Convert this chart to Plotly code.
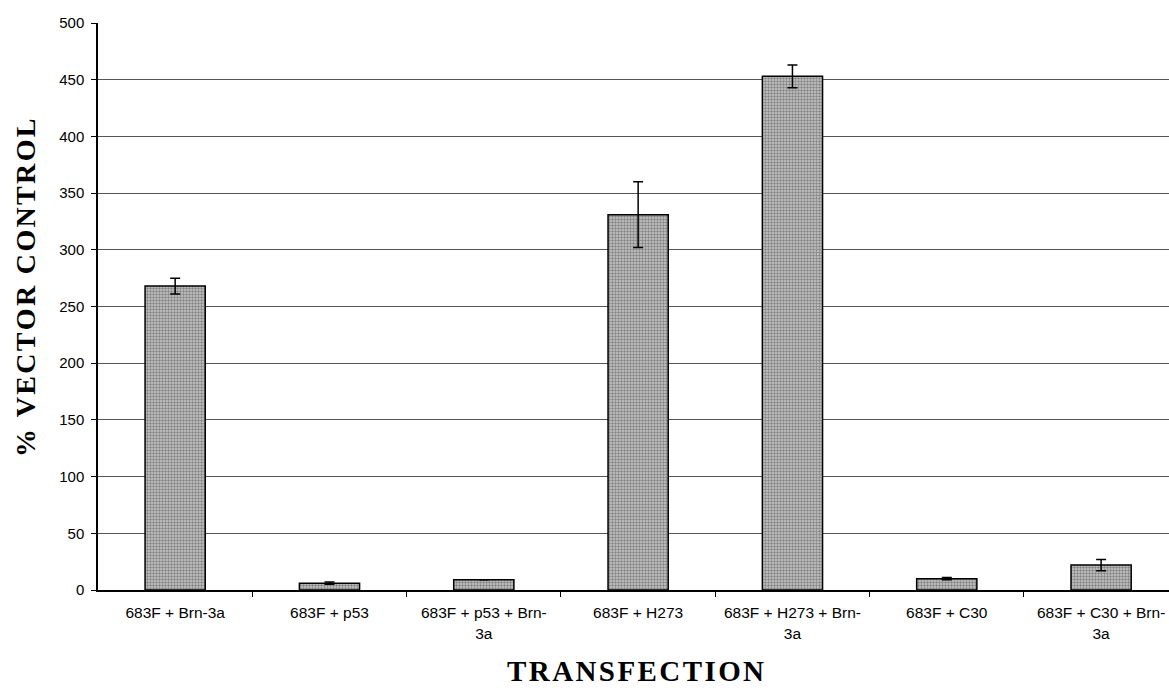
import plotly.graph_objects as go

# Luciferase activity of the 683F reporter, expressed as % of vector control
categories = [
    "683F + Brn-3a",
    "683F + p53",
    "683F + p53 + Brn-<br>3a",
    "683F + H273",
    "683F + H273 + Brn-<br>3a",
    "683F + C30",
    "683F + C30 + Brn-<br>3a",
]
percent_control = [268, 6, 9, 331, 453, 10, 22]
error = [7, 1, 0, 29, 10, 1, 5]
y_ticks = [0, 50, 100, 150, 200, 250, 300, 350, 400, 450, 500]

W, H = 1169, 693
L, R, T, B = 98, 0, 23, 103

positions = list(range(len(categories)))
boundaries = [p + 0.5 for p in positions[:-1]]

fig = go.Figure()
fig.add_trace(go.Bar(
    x=positions,
    y=percent_control,
    width=0.39,
    marker=dict(
        color="#c4c4c4",
        line=dict(color="black", width=1.5),
        pattern=dict(shape=".", fgcolor="#404040", bgcolor="#c8c8c8",
                     size=3, solidity=0.5),
    ),
    error_y=dict(type="data", array=error, visible=True,
                 color="black", thickness=1.5, width=5),
    showlegend=False,
))

fig.update_layout(
    width=W, height=H,
    margin=dict(l=L, r=R, t=T, b=B, pad=0),
    paper_bgcolor="white",
    plot_bgcolor="white",
    font=dict(family="Liberation Sans, Arial, sans-serif", size=15, color="black"),
)

# labels under each bar, tick marks between categories
fig.update_xaxes(
    type="linear",
    tickmode="array",
    tickvals=positions,
    ticktext=categories,
    tickfont=dict(size=15.5),
    range=[-0.5, 6.44],
    showline=True, linecolor="black", linewidth=1.5,
    ticks="", showgrid=False, zeroline=False,
    ticklabelstandoff=8,
    minor=dict(tickmode="array", tickvals=boundaries, ticks="outside",
               ticklen=5, tickcolor="black", tickwidth=1, showgrid=False),
)

fig.update_yaxes(
    range=[0, 500],
    tickvals=y_ticks,
    showline=True, linecolor="black", linewidth=1.5,
    ticks="outside", ticklen=5, tickcolor="black", tickwidth=1,
    showgrid=True, gridcolor="#555555", gridwidth=1,
    zeroline=False,
    ticklabelstandoff=4,
)

pw = W - L - R
ph = H - T - B

fig.add_annotation(
    text="\u200a".join("% VECTOR CONTROL"),
    textangle=-90,
    xref="paper", yref="paper",
    x=(25 - L) / pw, y=(H - B - 288) / ph,
    xanchor="center", yanchor="middle",
    showarrow=False,
    font=dict(family="Liberation Serif, Times New Roman, serif", size=28,
              color="black", weight="bold"),
)

fig.add_annotation(
    text="\u200a".join("TRANSFECTION"),
    xref="paper", yref="paper",
    x=(635 - L) / pw, y=(H - B - 671) / ph,
    xanchor="center", yanchor="middle",
    showarrow=False,
    font=dict(family="Liberation Serif, Times New Roman, serif", size=29,
              color="black", weight="bold"),
)

fig.write_html("out.html")
